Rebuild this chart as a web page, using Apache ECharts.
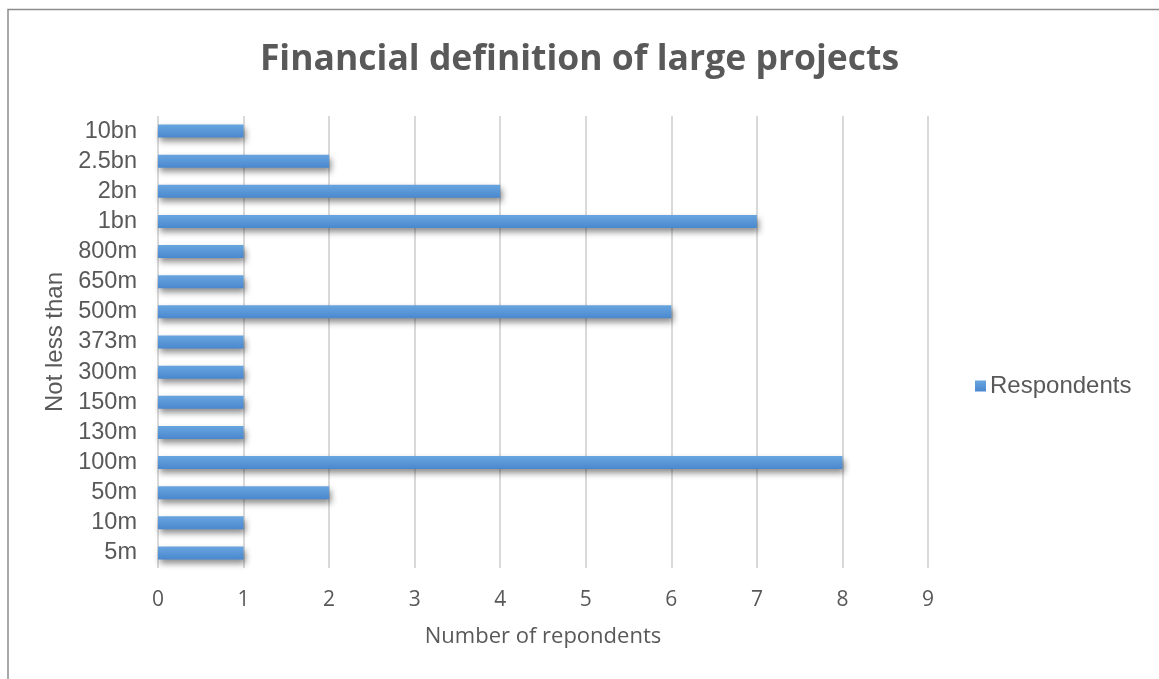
<!DOCTYPE html>
<html>
<head>
<meta charset="utf-8">
<script src="https://cdn.jsdelivr.net/npm/echarts@6/dist/echarts.min.js"></script>
<style>
  html, body { margin: 0; padding: 0; background: #fff; }
  #chart { width: 1159px; height: 679px; }
</style>
</head>
<body>
<div id="chart"></div>
<script>
// Threshold categories, listed bottom to top
const categories = ['5m', '10m', '50m', '100m', '130m', '150m', '300m', '373m', '500m', '650m', '800m', '1bn', '2bn', '2.5bn', '10bn'];
// Respondents naming each threshold
const respondents = [1, 1, 2, 8, 1, 1, 1, 1, 6, 1, 1, 7, 4, 2, 1];
// Value axis: min, max, step
const xTicks = [0, 9, 1];

const chart = echarts.init(document.getElementById('chart'), null, { renderer: 'canvas' });

chart.setOption({
  backgroundColor: '#ffffff',
  animation: false,
  title: {
    text: 'Financial definition of large projects',
    left: 'center',
    top: 37,
    textStyle: {
      fontFamily: 'Open Sans',
      fontWeight: 'bold',
      fontSize: 35.5,
      color: '#595959'
    }
  },
  legend: {
    data: ['Respondents'],
    orient: 'vertical',
    left: 970,
    top: 369,
    itemWidth: 11,
    itemHeight: 11,
    itemGap: 4,
    icon: 'rect',
    textStyle: {
      fontFamily: 'Liberation Sans',
      fontSize: 24,
      color: '#595959',
      padding: [0, 0, 0, -1]
    }
  },
  grid: {
    left: 158,
    right: 231,
    top: 116,
    bottom: 111,
    containLabel: false
  },
  xAxis: {
    type: 'value',
    min: xTicks[0],
    max: xTicks[1],
    interval: xTicks[2],
    name: 'Number of repondents',
    nameLocation: 'middle',
    nameGap: 58,
    nameTextStyle: {
      fontFamily: 'Open Sans',
      fontSize: 22,
      color: '#595959'
    },
    axisLine: { show: false },
    axisTick: { show: false },
    axisLabel: {
      margin: 22,
      fontFamily: 'Open Sans',
      fontSize: 21,
      color: '#595959'
    },
    splitLine: {
      show: true,
      lineStyle: { color: '#d9d9d9', width: 2 }
    }
  },
  yAxis: {
    type: 'category',
    data: categories,
    name: 'Not less than',
    nameLocation: 'middle',
    nameRotate: 90,
    nameGap: 88,
    nameTextStyle: {
      fontFamily: 'Liberation Sans',
      fontSize: 24,
      color: '#595959'
    },
    axisLine: { show: false },
    axisTick: { show: false },
    axisLabel: {
      interval: 0,
      margin: 21,
      fontFamily: 'Liberation Sans',
      fontSize: 23.5,
      color: '#595959'
    },
    splitLine: { show: false }
  },
  series: [{
    name: 'Respondents',
    type: 'bar',
    data: respondents,
    barWidth: 13,
    itemStyle: {
      color: new echarts.graphic.LinearGradient(0, 0, 0, 1, [
        { offset: 0, color: '#68a5df' },
        { offset: 1, color: '#4a88cf' }
      ]),
      shadowColor: 'rgba(0, 0, 0, 0.45)',
      shadowBlur: 6,
      shadowOffsetX: 2,
      shadowOffsetY: 4
    }
  }],
  graphic: [{
    type: 'polyline',
    silent: true,
    shape: { points: [[8, 679], [8, 9.5], [1159, 9.5]] },
    style: { stroke: '#8c8c8c', lineWidth: 1.5, fill: null }
  }]
});
</script>
</body>
</html>
